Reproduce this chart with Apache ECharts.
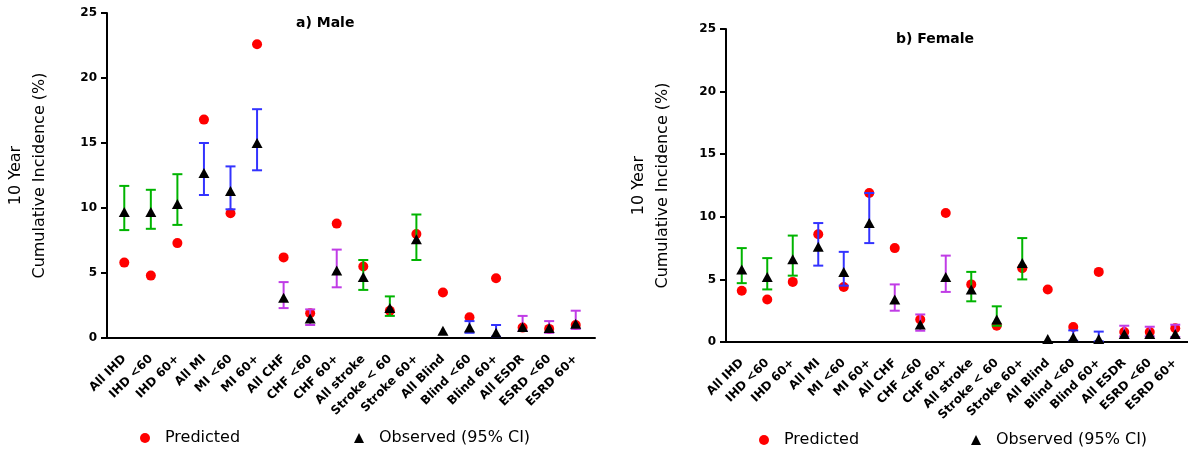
<!DOCTYPE html>
<html>
<head>
<meta charset="utf-8">
<title>10 Year Cumulative Incidence</title>
<script src="https://cdn.jsdelivr.net/npm/echarts@6/dist/echarts.min.js"></script>
<style>
  html, body { margin: 0; padding: 0; background: #fff; }
  #main { width: 1188px; height: 451px; }
</style>
</head>
<body>
<div id="main"></div>
<script>
// categories (same for both panels)
var categories = ['All IHD', 'IHD <60', 'IHD 60+', 'All MI', 'MI <60', 'MI 60+',
  'All CHF', 'CHF <60', 'CHF 60+', 'All stroke', 'Stroke < 60', 'Stroke 60+',
  'All Blind', 'Blind <60', 'Blind 60+', 'All ESDR', 'ESRD <60', 'ESRD 60+'];

// a) Male
var malePredicted = [5.8, 4.8, 7.3, 16.8, 9.6, 22.6, 6.2, 1.9, 8.8, 5.5, 2.1, 8.0, 3.5, 1.6, 4.6, 0.8, 0.7, 1.0];
var maleObserved  = [9.7, 9.7, 10.3, 12.7, 11.3, 15.0, 3.1, 1.5, 5.2, 4.7, 2.3, 7.6, 0.56, 0.8, 0.4, 0.85, 0.77, 1.1];
var maleLow       = [8.3, 8.4, 8.7, 11.0, 9.9, 12.9, 2.3, 1.0, 3.9, 3.7, 1.7, 6.0, null, 0.4, 0.1, 0.56, 0.4, 0.7];
var maleHigh      = [11.7, 11.4, 12.6, 15.0, 13.2, 17.6, 4.3, 2.2, 6.8, 6.0, 3.2, 9.5, null, 1.3, 1.0, 1.7, 1.3, 2.1];

// b) Female
var femalePredicted = [4.1, 3.4, 4.8, 8.6, 4.4, 11.9, 7.5, 1.8, 10.3, 4.6, 1.3, 5.9, 4.2, 1.2, 5.6, 0.8, 0.8, 1.1];
var femaleObserved  = [5.8, 5.2, 6.6, 7.6, 5.6, 9.5, 3.4, 1.4, 5.2, 4.2, 1.8, 6.3, 0.24, 0.37, 0.24, 0.64, 0.64, 0.64];
var femaleLow       = [4.7, 4.2, 5.3, 6.1, 4.5, 7.9, 2.5, 0.9, 4.0, 3.25, 1.3, 5.0, null, 0.1, 0.05, 0.45, 0.45, 0.4];
var femaleHigh      = [7.5, 6.7, 8.5, 9.5, 7.2, 11.9, 4.6, 2.2, 6.9, 5.6, 2.85, 8.3, null, 0.93, 0.83, 1.3, 1.22, 1.38];

var yTicks = [0, 5, 10, 15, 20, 25];

var green = '#00b400', blue = '#3333ff', purple = '#c03ce6';
var barColors = [green, green, green, blue, blue, blue, purple, purple, purple,
  green, green, green, blue, blue, blue, purple, purple, purple];

var font = 'DejaVu Sans';

function ciData(low, high) {
  var out = [];
  for (var i = 0; i < low.length; i++) {
    out.push([i, low[i] == null ? NaN : low[i], high[i] == null ? NaN : high[i]]);
  }
  return out;
}

function renderCI(params, api) {
  var lo = api.value(1), hi = api.value(2);
  if (isNaN(lo) || isNaN(hi)) return null;
  var i = api.value(0);
  var p1 = api.coord([i, lo]);
  var p2 = api.coord([i, hi]);
  var hw = 5;
  var style = { stroke: barColors[params.dataIndex], lineWidth: 2 };
  return {
    type: 'group',
    children: [
      { type: 'line', shape: { x1: p1[0], y1: p1[1], x2: p2[0], y2: p2[1] }, style: style },
      { type: 'line', shape: { x1: p1[0] - hw, y1: p1[1], x2: p1[0] + hw, y2: p1[1] }, style: style },
      { type: 'line', shape: { x1: p2[0] - hw, y1: p2[1], x2: p2[0] + hw, y2: p2[1] }, style: style }
    ]
  };
}

// data axes: category ticks + labels, hidden y scale
function dataX(gi) {
  return {
    type: 'category', gridIndex: gi, data: categories,
    axisLine: { show: false },
    axisTick: { alignWithLabel: true, length: 5, lineStyle: { color: '#000', width: 2 } },
    axisLabel: { rotate: 45, interval: 0, margin: 19, color: '#000', fontFamily: font, fontWeight: 'bold', fontSize: 12 }
  };
}
function dataY(gi) {
  return { type: 'value', gridIndex: gi, min: 0, max: 25, show: false, splitLine: { show: false } };
}

// frame axes: the visible axis lines, y ticks, y labels and name
function frameX(gi) {
  return {
    type: 'value', gridIndex: gi, min: 0, max: 1,
    axisLine: { show: true, onZero: false, lineStyle: { color: '#000', width: 2 } },
    axisTick: { show: false }, axisLabel: { show: false }, splitLine: { show: false }
  };
}
function frameY(gi, gap) {
  return {
    type: 'value', gridIndex: gi, min: 0, max: 25, interval: 5,
    name: '10 Year\nCumulative Incidence (%)',
    nameLocation: 'middle', nameRotate: 90, nameGap: gap,
    nameTextStyle: { fontFamily: font, fontSize: 16, color: '#000', lineHeight: 24 },
    axisLine: { show: true, lineStyle: { color: '#000', width: 2 } },
    axisTick: { show: true, length: 6, lineStyle: { color: '#000', width: 2 } },
    axisLabel: {
      margin: 10, color: '#000', fontFamily: font, fontWeight: 'bold', fontSize: 12,
      formatter: function (v) { return yTicks.indexOf(v) >= 0 ? String(v) : ''; }
    },
    splitLine: { show: false }
  };
}

function seriesFor(gi, predicted, observed, low, high) {
  return [
    {
      name: 'Predicted', type: 'scatter', xAxisIndex: gi, yAxisIndex: gi,
      symbol: 'circle', symbolSize: 10, itemStyle: { color: '#ff0000', opacity: 1 }, z: 2,
      data: predicted
    },
    {
      type: 'custom', xAxisIndex: gi, yAxisIndex: gi, renderItem: renderCI, z: 3,
      encode: { x: 0, y: [1, 2] }, data: ciData(low, high), silent: true
    },
    {
      name: 'Observed (95% CI)', type: 'scatter', xAxisIndex: gi, yAxisIndex: gi,
      symbol: 'triangle', symbolSize: [11, 10], itemStyle: { color: '#000', opacity: 1 }, z: 4,
      data: observed
    }
  ];
}

function legendAt(name, icon, left, top) {
  return {
    data: [{ name: name, icon: icon }], left: left, top: top, padding: 0,
    itemWidth: 10, itemHeight: 10, selectedMode: false,
    textStyle: { fontFamily: font, fontSize: 16, color: '#000', padding: [0, 0, 0, 10] }
  };
}

var titleStyle = { fontFamily: font, fontWeight: 'bold', fontSize: 14, color: '#000' };

var myChart = echarts.init(document.getElementById('main'));
var option = {
  backgroundColor: '#fff',
  animation: false,
  title: [
    { text: 'a) Male', left: 296, top: 16, padding: 0, textStyle: titleStyle },
    { text: 'b) Female', left: 896, top: 32, padding: 0, textStyle: titleStyle }
  ],
  legend: [
    legendAt('Predicted', 'circle', 140, 430),
    legendAt('Observed (95% CI)', 'triangle', 354, 430),
    legendAt('Predicted', 'circle', 759, 432),
    legendAt('Observed (95% CI)', 'triangle', 971, 432)
  ],
  grid: [
    { left: 111, right: 599, top: 13, bottom: 113 },
    { left: 729, right: 0, top: 29, bottom: 109 },
    { left: 107, right: 593, top: 13, bottom: 113 },
    { left: 726, right: 0, top: 29, bottom: 109 }
  ],
  xAxis: [dataX(0), dataX(1), frameX(2), frameX(3)],
  yAxis: [dataY(0), dataY(1), frameY(2, 55), frameY(3, 51)],
  series: seriesFor(0, malePredicted, maleObserved, maleLow, maleHigh)
    .concat(seriesFor(1, femalePredicted, femaleObserved, femaleLow, femaleHigh))
};
myChart.setOption(option);
</script>
</body>
</html>
